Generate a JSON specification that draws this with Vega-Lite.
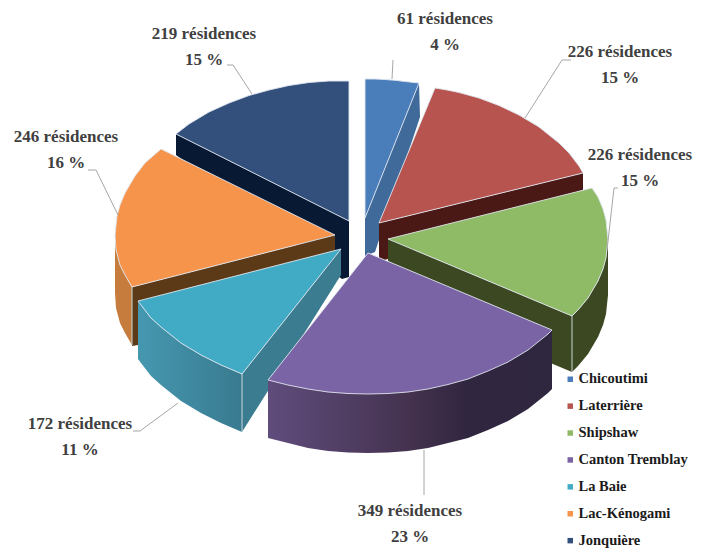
{
"$schema":"https://vega.github.io/schema/vega-lite/v6.json",
"width":706,"height":548,"padding":0,"autosize":{"type":"fit","contains":"padding"},
"background":"white","view":{"stroke":null},
"datasets":{
"faces":[
{"plan":1,"piece":"Jonquière – flanc","x":176,"y":134},{"plan":1,"piece":"Jonquière – flanc","x":349,"y":221},{"plan":1,"piece":"Jonquière – flanc","x":349,"y":277},{"plan":1,"piece":"Jonquière – flanc","x":342,"y":279},{"plan":1,"piece":"Jonquière – flanc","x":176,"y":155},{"plan":1,"piece":"Jonquière – flanc","x":176,"y":134},
{"plan":1,"piece":"Jonquière","x":349,"y":221},{"plan":1,"piece":"Jonquière","x":349,"y":81},{"plan":1,"piece":"Jonquière","x":329,"y":81},{"plan":1,"piece":"Jonquière","x":309,"y":82.5},{"plan":1,"piece":"Jonquière","x":289,"y":85.5},{"plan":1,"piece":"Jonquière","x":269,"y":90},{"plan":1,"piece":"Jonquière","x":249,"y":95.5},{"plan":1,"piece":"Jonquière","x":229,"y":103},{"plan":1,"piece":"Jonquière","x":209,"y":112},{"plan":1,"piece":"Jonquière","x":189,"y":124},{"plan":1,"piece":"Jonquière","x":176,"y":134},{"plan":1,"piece":"Jonquière","x":349,"y":221},
{"plan":1,"piece":"Chicoutimi – flanc","x":419,"y":83},{"plan":1,"piece":"Chicoutimi – flanc","x":420,"y":117},{"plan":1,"piece":"Chicoutimi – flanc","x":375,"y":252},{"plan":1,"piece":"Chicoutimi – flanc","x":365,"y":256},{"plan":1,"piece":"Chicoutimi – flanc","x":365,"y":218},{"plan":1,"piece":"Chicoutimi – flanc","x":419,"y":83},
{"plan":1,"piece":"Chicoutimi","x":365,"y":218},{"plan":1,"piece":"Chicoutimi","x":365,"y":79},{"plan":1,"piece":"Chicoutimi","x":375,"y":79},{"plan":1,"piece":"Chicoutimi","x":385,"y":79.5},{"plan":1,"piece":"Chicoutimi","x":395,"y":80.3},{"plan":1,"piece":"Chicoutimi","x":405,"y":81.5},{"plan":1,"piece":"Chicoutimi","x":419,"y":83},{"plan":1,"piece":"Chicoutimi","x":365,"y":218},
{"plan":1,"piece":"Laterrière – flanc","x":379,"y":223},{"plan":1,"piece":"Laterrière – flanc","x":583,"y":173},{"plan":1,"piece":"Laterrière – flanc","x":583,"y":190},{"plan":1,"piece":"Laterrière – flanc","x":379,"y":262},{"plan":1,"piece":"Laterrière – flanc","x":379,"y":223},
{"plan":1,"piece":"Laterrière","x":379,"y":223},{"plan":1,"piece":"Laterrière","x":435,"y":88},{"plan":1,"piece":"Laterrière","x":447,"y":90},{"plan":1,"piece":"Laterrière","x":459,"y":92.5},{"plan":1,"piece":"Laterrière","x":479,"y":98},{"plan":1,"piece":"Laterrière","x":499,"y":105.5},{"plan":1,"piece":"Laterrière","x":519,"y":115},{"plan":1,"piece":"Laterrière","x":539,"y":127},{"plan":1,"piece":"Laterrière","x":559,"y":143},{"plan":1,"piece":"Laterrière","x":569,"y":153},{"plan":1,"piece":"Laterrière","x":579,"y":166},{"plan":1,"piece":"Laterrière","x":583,"y":173},{"plan":1,"piece":"Laterrière","x":379,"y":223},
{"plan":1,"piece":"Lac-Kénogami – flanc","x":132,"y":287},{"plan":1,"piece":"Lac-Kénogami – flanc","x":335,"y":235},{"plan":1,"piece":"Lac-Kénogami – flanc","x":335,"y":255},{"plan":1,"piece":"Lac-Kénogami – flanc","x":138,"y":306},{"plan":1,"piece":"Lac-Kénogami – flanc","x":138,"y":345},{"plan":1,"piece":"Lac-Kénogami – flanc","x":132,"y":346},{"plan":1,"piece":"Lac-Kénogami – flanc","x":132,"y":287},
{"plan":1,"piece":"Lac-Kénogami – paroi","x":115,"y":235},{"plan":1,"piece":"Lac-Kénogami – paroi","x":116,"y":250},{"plan":1,"piece":"Lac-Kénogami – paroi","x":120,"y":265},{"plan":1,"piece":"Lac-Kénogami – paroi","x":125,"y":275},{"plan":1,"piece":"Lac-Kénogami – paroi","x":132,"y":287},{"plan":1,"piece":"Lac-Kénogami – paroi","x":132,"y":345},{"plan":1,"piece":"Lac-Kénogami – paroi","x":125,"y":333},{"plan":1,"piece":"Lac-Kénogami – paroi","x":120,"y":323},{"plan":1,"piece":"Lac-Kénogami – paroi","x":116,"y":308},{"plan":1,"piece":"Lac-Kénogami – paroi","x":115,"y":293},{"plan":1,"piece":"Lac-Kénogami – paroi","x":115,"y":235},
{"plan":1,"piece":"Lac-Kénogami","x":335,"y":235},{"plan":1,"piece":"Lac-Kénogami","x":161,"y":149},{"plan":1,"piece":"Lac-Kénogami","x":145,"y":163},{"plan":1,"piece":"Lac-Kénogami","x":135,"y":176},{"plan":1,"piece":"Lac-Kénogami","x":125,"y":193},{"plan":1,"piece":"Lac-Kénogami","x":120,"y":205},{"plan":1,"piece":"Lac-Kénogami","x":117,"y":216},{"plan":1,"piece":"Lac-Kénogami","x":115,"y":235},{"plan":1,"piece":"Lac-Kénogami","x":116,"y":250},{"plan":1,"piece":"Lac-Kénogami","x":120,"y":265},{"plan":1,"piece":"Lac-Kénogami","x":125,"y":275},{"plan":1,"piece":"Lac-Kénogami","x":132,"y":287},{"plan":1,"piece":"Lac-Kénogami","x":335,"y":235},
{"plan":1,"piece":"Shipshaw – flanc","x":388,"y":239},{"plan":1,"piece":"Shipshaw – flanc","x":572,"y":316},{"plan":1,"piece":"Shipshaw – flanc","x":572,"y":372},{"plan":1,"piece":"Shipshaw – flanc","x":388,"y":295},{"plan":1,"piece":"Shipshaw – flanc","x":388,"y":239},
{"plan":1,"piece":"Shipshaw – paroi","x":572,"y":316},{"plan":1,"piece":"Shipshaw – paroi","x":578,"y":310},{"plan":1,"piece":"Shipshaw – paroi","x":588,"y":298},{"plan":1,"piece":"Shipshaw – paroi","x":598,"y":281},{"plan":1,"piece":"Shipshaw – paroi","x":603,"y":269},{"plan":1,"piece":"Shipshaw – paroi","x":606,"y":258},{"plan":1,"piece":"Shipshaw – paroi","x":608,"y":239},{"plan":1,"piece":"Shipshaw – paroi","x":608,"y":295},{"plan":1,"piece":"Shipshaw – paroi","x":606,"y":314},{"plan":1,"piece":"Shipshaw – paroi","x":603,"y":325},{"plan":1,"piece":"Shipshaw – paroi","x":598,"y":337},{"plan":1,"piece":"Shipshaw – paroi","x":588,"y":354},{"plan":1,"piece":"Shipshaw – paroi","x":578,"y":366},{"plan":1,"piece":"Shipshaw – paroi","x":572,"y":372},{"plan":1,"piece":"Shipshaw – paroi","x":572,"y":316},
{"plan":1,"piece":"Shipshaw","x":388,"y":239},{"plan":1,"piece":"Shipshaw","x":592,"y":188},{"plan":1,"piece":"Shipshaw","x":598,"y":197},{"plan":1,"piece":"Shipshaw","x":603,"y":209},{"plan":1,"piece":"Shipshaw","x":606,"y":220},{"plan":1,"piece":"Shipshaw","x":608,"y":239},{"plan":1,"piece":"Shipshaw","x":606,"y":258},{"plan":1,"piece":"Shipshaw","x":603,"y":269},{"plan":1,"piece":"Shipshaw","x":598,"y":281},{"plan":1,"piece":"Shipshaw","x":588,"y":298},{"plan":1,"piece":"Shipshaw","x":578,"y":310},{"plan":1,"piece":"Shipshaw","x":572,"y":316},{"plan":1,"piece":"Shipshaw","x":388,"y":239},
{"plan":2,"piece":"La Baie – paroi","x":138,"y":301},{"plan":2,"piece":"La Baie – paroi","x":141,"y":305},{"plan":2,"piece":"La Baie – paroi","x":151,"y":318},{"plan":2,"piece":"La Baie – paroi","x":161,"y":327},{"plan":2,"piece":"La Baie – paroi","x":181,"y":343},{"plan":2,"piece":"La Baie – paroi","x":201,"y":355},{"plan":2,"piece":"La Baie – paroi","x":221,"y":365},{"plan":2,"piece":"La Baie – paroi","x":242,"y":374},{"plan":2,"piece":"La Baie – paroi","x":242,"y":432},{"plan":2,"piece":"La Baie – paroi","x":221,"y":423},{"plan":2,"piece":"La Baie – paroi","x":201,"y":413},{"plan":2,"piece":"La Baie – paroi","x":181,"y":401},{"plan":2,"piece":"La Baie – paroi","x":161,"y":385},{"plan":2,"piece":"La Baie – paroi","x":151,"y":376},{"plan":2,"piece":"La Baie – paroi","x":141,"y":363},{"plan":2,"piece":"La Baie – paroi","x":138,"y":359},{"plan":2,"piece":"La Baie – paroi","x":138,"y":301},
{"plan":3,"piece":"La Baie – flanc","x":341,"y":249},{"plan":3,"piece":"La Baie – flanc","x":341,"y":275},{"plan":3,"piece":"La Baie – flanc","x":242,"y":432},{"plan":3,"piece":"La Baie – flanc","x":242,"y":374},{"plan":3,"piece":"La Baie – flanc","x":341,"y":249},
{"plan":3,"piece":"La Baie","x":341,"y":249},{"plan":3,"piece":"La Baie","x":138,"y":301},{"plan":3,"piece":"La Baie","x":141,"y":305},{"plan":3,"piece":"La Baie","x":151,"y":318},{"plan":3,"piece":"La Baie","x":161,"y":327},{"plan":3,"piece":"La Baie","x":181,"y":343},{"plan":3,"piece":"La Baie","x":201,"y":355},{"plan":3,"piece":"La Baie","x":221,"y":365},{"plan":3,"piece":"La Baie","x":242,"y":374},{"plan":3,"piece":"La Baie","x":341,"y":249},
{"plan":4,"piece":"Canton Tremblay – paroi","x":552,"y":330},{"plan":4,"piece":"Canton Tremblay – paroi","x":552,"y":389},{"plan":4,"piece":"Canton Tremblay – paroi","x":548,"y":393},{"plan":4,"piece":"Canton Tremblay – paroi","x":528,"y":409},{"plan":4,"piece":"Canton Tremblay – paroi","x":508,"y":421},{"plan":4,"piece":"Canton Tremblay – paroi","x":488,"y":430},{"plan":4,"piece":"Canton Tremblay – paroi","x":468,"y":438},{"plan":4,"piece":"Canton Tremblay – paroi","x":448,"y":443},{"plan":4,"piece":"Canton Tremblay – paroi","x":428,"y":448},{"plan":4,"piece":"Canton Tremblay – paroi","x":408,"y":451},{"plan":4,"piece":"Canton Tremblay – paroi","x":388,"y":452.5},{"plan":4,"piece":"Canton Tremblay – paroi","x":368,"y":453},{"plan":4,"piece":"Canton Tremblay – paroi","x":348,"y":452.5},{"plan":4,"piece":"Canton Tremblay – paroi","x":328,"y":451},{"plan":4,"piece":"Canton Tremblay – paroi","x":308,"y":448},{"plan":4,"piece":"Canton Tremblay – paroi","x":288,"y":443},{"plan":4,"piece":"Canton Tremblay – paroi","x":268,"y":438},{"plan":4,"piece":"Canton Tremblay – paroi","x":268,"y":380},{"plan":4,"piece":"Canton Tremblay – paroi","x":552,"y":330},
{"plan":5,"piece":"Canton Tremblay","x":368,"y":253},{"plan":5,"piece":"Canton Tremblay","x":552,"y":330},{"plan":5,"piece":"Canton Tremblay","x":548,"y":334},{"plan":5,"piece":"Canton Tremblay","x":528,"y":350},{"plan":5,"piece":"Canton Tremblay","x":508,"y":362},{"plan":5,"piece":"Canton Tremblay","x":488,"y":371},{"plan":5,"piece":"Canton Tremblay","x":468,"y":379},{"plan":5,"piece":"Canton Tremblay","x":448,"y":384.5},{"plan":5,"piece":"Canton Tremblay","x":428,"y":389},{"plan":5,"piece":"Canton Tremblay","x":408,"y":392},{"plan":5,"piece":"Canton Tremblay","x":388,"y":393.5},{"plan":5,"piece":"Canton Tremblay","x":368,"y":394},{"plan":5,"piece":"Canton Tremblay","x":348,"y":393.5},{"plan":5,"piece":"Canton Tremblay","x":328,"y":392},{"plan":5,"piece":"Canton Tremblay","x":308,"y":389},{"plan":5,"piece":"Canton Tremblay","x":288,"y":385},{"plan":5,"piece":"Canton Tremblay","x":268,"y":380},{"plan":5,"piece":"Canton Tremblay","x":368,"y":253}
],
"aretes":[
{"arete":"a","x":572,"y":316},{"arete":"a","x":572,"y":372},
{"arete":"b","x":242,"y":374},{"arete":"b","x":242,"y":432},
{"arete":"c","x":132,"y":287},{"arete":"c","x":132,"y":345}
],
"renvois":[
{"secteur":"Chicoutimi","x":393,"y":60},{"secteur":"Chicoutimi","x":392,"y":79},
{"secteur":"Laterrière","x":571,"y":60},{"secteur":"Laterrière","x":562,"y":60},{"secteur":"Laterrière","x":525,"y":118},
{"secteur":"Shipshaw","x":618,"y":188},{"secteur":"Shipshaw","x":614,"y":188},{"secteur":"Shipshaw","x":607,"y":250},
{"secteur":"Canton Tremblay","x":424,"y":450},{"secteur":"Canton Tremblay","x":424,"y":495},
{"secteur":"La Baie","x":133,"y":431},{"secteur":"La Baie","x":140,"y":431},{"secteur":"La Baie","x":178,"y":403},
{"secteur":"Lac-Kénogami","x":88,"y":170},{"secteur":"Lac-Kénogami","x":96,"y":170},{"secteur":"Lac-Kénogami","x":118,"y":215},
{"secteur":"Jonquière","x":227,"y":65},{"secteur":"Jonquière","x":233,"y":65},{"secteur":"Jonquière","x":252,"y":94}
],
"etiquettes":[
{"secteur":"Chicoutimi","residences":61,"pct":4,"etiquette":"61 résidences\n4 %","x":445,"y":19},
{"secteur":"Laterrière","residences":226,"pct":15,"etiquette":"226 résidences\n15 %","x":620,"y":52},
{"secteur":"Shipshaw","residences":226,"pct":15,"etiquette":"226 résidences\n15 %","x":640,"y":155},
{"secteur":"Canton Tremblay","residences":349,"pct":23,"etiquette":"349 résidences\n23 %","x":410,"y":511},
{"secteur":"La Baie","residences":172,"pct":11,"etiquette":"172 résidences\n11 %","x":80,"y":424},
{"secteur":"Lac-Kénogami","residences":246,"pct":16,"etiquette":"246 résidences\n16 %","x":66,"y":137},
{"secteur":"Jonquière","residences":219,"pct":15,"etiquette":"219 résidences\n15 %","x":204,"y":34}
]
},
"config":{"axis":{"domain":false,"grid":false,"ticks":false,"labels":false,"title":null}},
"encoding":{
"x":{"field":"x","type":"quantitative","scale":{"domain":[0,706],"nice":false,"zero":false},"axis":null},
"y":{"field":"y","type":"quantitative","scale":{"domain":[548,0],"nice":false,"zero":false},"axis":null}
},
"layer":[
{"data":{"name":"faces"},"transform":[{"filter":"datum.plan==1"}],
"mark":{"type":"line","filled":true,"stroke":"#dfe6ee","strokeWidth":1,"strokeJoin":"round"},
"encoding":{
"order":{"value":null},
"strokeOpacity":{"condition":{"test":"indexof(datum.piece,'–')<0","value":0.9},"value":0},
"color":{"field":"piece","type":"nominal",
"scale":{"domain":["Chicoutimi","Laterrière","Shipshaw","Canton Tremblay","La Baie","Lac-Kénogami","Jonquière","Chicoutimi – flanc","Laterrière – flanc","Shipshaw – flanc","Shipshaw – paroi","La Baie – flanc","Lac-Kénogami – flanc","Lac-Kénogami – paroi","Jonquière – flanc"],
"range":["#4a7ebb","#b85450","#8fba66","#7b64a5","#41abc5","#f7944b","#32507b","#3f6a9a","#4a1815","#3c4821","#3c4821","#3b7c90","#5c3a17","#c67c3d","#081a33"]},
"legend":{"values":["Chicoutimi","Laterrière","Shipshaw","Canton Tremblay","La Baie","Lac-Kénogami","Jonquière"],"title":null,"orient":"none","legendX":563,"legendY":372,"symbolType":"square","symbolSize":30,"symbolStrokeWidth":0,"labelFont":"Liberation Serif","labelFontWeight":"bold","labelFontSize":14.5,"labelColor":"#1a1a1a","rowPadding":11.9,"labelOffset":1,"labelLimit":140}}
}},
{"data":{"name":"faces"},"transform":[{"filter":"datum.plan==2"}],
"mark":{"type":"line","filled":true,"stroke":null,"fill":{"gradient":"linear","x1":0,"y1":0,"x2":1,"y2":0,"stops":[{"offset":0,"color":"#4598b0"},{"offset":1,"color":"#397a90"}]}},
"encoding":{"order":{"value":null}}},
{"data":{"name":"faces"},"transform":[{"filter":"datum.plan==3"}],
"mark":{"type":"line","filled":true,"stroke":"#dfe6ee","strokeWidth":1},
"encoding":{"order":{"value":null},"strokeOpacity":{"condition":{"test":"indexof(datum.piece,'–')<0","value":0.9},"value":0},"color":{"field":"piece","type":"nominal"}}},
{"data":{"name":"faces"},"transform":[{"filter":"datum.plan==4"}],
"mark":{"type":"line","filled":true,"stroke":null,"fill":{"gradient":"linear","x1":0,"y1":0,"x2":1,"y2":0,"stops":[{"offset":0,"color":"#604c7c"},{"offset":0.5,"color":"#44324f"},{"offset":0.7,"color":"#312640"},{"offset":1,"color":"#2f2640"}]}},
"encoding":{"order":{"value":null}}},
{"data":{"name":"faces"},"transform":[{"filter":"datum.plan==5"}],
"mark":{"type":"line","filled":true,"stroke":"#dfe6ee","strokeWidth":1},
"encoding":{"order":{"value":null},"strokeOpacity":{"value":0.9},"color":{"field":"piece","type":"nominal"}}},
{"data":{"name":"aretes"},"mark":{"type":"line","color":"#c9d6da","strokeWidth":1},"encoding":{"order":{"value":null},"detail":{"field":"arete"}}},
{"data":{"name":"renvois"},"mark":{"type":"line","color":"#a6a6a6","strokeWidth":1},"encoding":{"order":{"value":null},"detail":{"field":"secteur"}}},
{"data":{"name":"etiquettes"},"mark":{"type":"text","font":"Liberation Serif","fontWeight":"bold","fontSize":17,"color":"#404040","lineBreak":"\n","lineHeight":26,"align":"center","baseline":"middle"},"encoding":{"text":{"field":"etiquette"}}}
]
}
